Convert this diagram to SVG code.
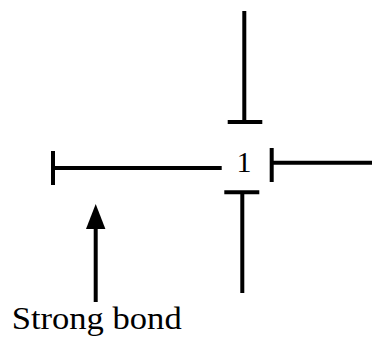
<svg xmlns="http://www.w3.org/2000/svg" width="372" height="337" viewBox="0 0 372 337">
<style>
.b{stroke:#000;stroke-width:4;fill:none;stroke-linecap:butt}
.t{font-family:"Liberation Serif","Times New Roman",serif;fill:#000}
</style>
<rect width="372" height="337" fill="#fff"/>
<g id="node1">
<text class="t" x="244" y="172" font-size="30" text-anchor="middle">1</text>
</g>
<g id="connectors">
<path class="b" d="M244.3 11V122M227.7 122H262.3"/>
<path class="b" d="M242.3 293V192.3M224.3 192.3H259.3"/>
<path class="b" d="M221.7 168H53M53 151V185"/>
<path class="b" d="M372 162.7H271.7M271.7 148V182"/>
<path class="b" d="M95.7 302V226"/>
<polygon points="95.7,204 86,229 105.4,229" fill="#000"/>
</g>
<g id="label">
<text class="t" x="11.7" y="329" font-size="32" textLength="170" lengthAdjust="spacingAndGlyphs">Strong bond</text>
</g>
</svg>
